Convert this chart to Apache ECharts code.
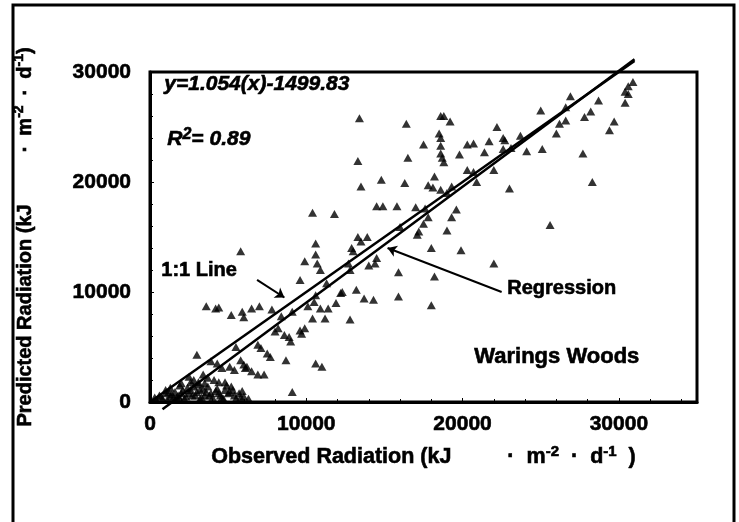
<!DOCTYPE html>
<html>
<head>
<meta charset="utf-8">
<script src="https://cdn.jsdelivr.net/npm/echarts@6/dist/echarts.min.js"></script>
<style>
  html, body { margin: 0; padding: 0; background: #fff; }
  #chart { width: 739px; height: 522px; }
</style>
</head>
<body>
<div id="chart"></div>
<script>
// observed vs predicted radiation, Warings Woods
const observed = [
  13400, 16400, 18600, 18800, 19200, 18500, 18600, 17500, 18600, 20300,
  20700, 13300, 16500, 18600, 18700, 18800, 19800, 20300, 20700, 18200,
  14800, 16300, 13500, 17800, 18100, 18600, 19000, 19300, 10400, 11800,
  14500, 14900, 15800, 17000, 17600, 19600, 17800, 17500, 19300, 19000,
  17100, 17200, 13300, 13900, 16000, 30900, 30600, 30400, 30600, 30400,
  26900, 28700, 25000, 26600, 26600, 26200, 28200, 27800, 29700, 29400,
  22200, 21700, 22600, 22700, 23700, 21400, 22600, 23100, 24100, 25100,
  26000, 27700, 22000, 20900, 23000, 28300, 25600, 18000, 19900, 10600,
  10600, 9900, 10700, 10900, 9600, 13500, 12900, 13000, 12700, 12800,
  14500, 14400, 14000, 15900, 18200, 11300, 12300, 13200, 13700, 14300,
  15900, 18000, 10600, 10500, 10100, 10900, 11400, 11900, 10400, 11200,
  12800, 9900, 9700, 10600, 11000, 5800, 3600, 4200, 4400, 5200,
  5900, 6000, 6500, 7000, 7800, 8400, 9100, 8200, 8000, 8900,
  9000, 9600, 5500, 6900, 7100, 7500, 7700, 6000, 6100, 6500,
  6900, 7300, 3000, 3900, 4300, 4600, 5100, 5400, 8700, 9100,
  2500, 2800, 3100, 3400, 3700, 4100, 4400, 600, 1000, 1300,
  1600, 1800, 2100, 2500, 2800, 2900, 3200, 3500, 3700, 3900,
  4300, 4500, 4800, 5000, 5200, 5400, 5700, 5800, 6200, 8600,
  12200, 22000, 300, 800, 1200, 1500, 1900, 2300, 2600, 3000,
  3300, 3600, 4000, 4400, 4600, 4900, 5300, 5800, 6000, 2600,
  1900, 1300, 3100, 400, 700, 1100, 1400, 1700, 2000, 2200,
  2400, 2700, 3200, 3400, 3800, 4200, 4700, 5100, 5500, 5900,
  6300, 2000, 3500, 4800, 1000
];
const predicted = [
  25800, 25300, 26000, 26000, 25500, 24400, 24000, 23400, 23300, 23400,
  23500, 21900, 22200, 22600, 22200, 21800, 22500, 21100, 20900, 20500,
  20200, 19900, 19600, 19700, 19500, 19300, 19000, 19600, 17200, 17100,
  17800, 17800, 17800, 17700, 17600, 17500, 16800, 16200, 16800, 15600,
  15200, 15500, 15000, 15000, 15900, 29100, 28700, 28200, 28000, 27200,
  27800, 27400, 26500, 26800, 25600, 25300, 26400, 25900, 25500, 24700,
  25000, 23700, 24000, 23800, 24200, 22700, 23000, 23100, 22800, 23000,
  24400, 22600, 21100, 20000, 19400, 20000, 16100, 14000, 13800, 14400,
  13400, 12800, 12600, 12000, 11100, 14600, 14000, 13700, 12600, 12000,
  13100, 12600, 12400, 11800, 11400, 10800, 10000, 10200, 9400, 9300,
  9600, 8800, 9700, 9100, 8700, 8500, 8500, 9000, 7600, 7600,
  7500, 6700, 6200, 3500, 3200, 13700, 8700, 8500, 8600, 7900,
  8200, 7700, 8500, 8700, 8400, 7800, 8200, 6700, 6400, 5900,
  5500, 6500, 5000, 5200, 4900, 4400, 4100, 3400, 3100, 2800,
  2500, 2500, 4300, 3700, 3500, 3100, 3200, 2900, 3800, 900,
  2300, 2000, 1800, 2500, 2200, 2000, 1800, 600, 800, 500,
  900, 600, 1100, 800, 1400, 600, 1100, 600, 1400, 800,
  1200, 600, 1100, 800, 1400, 600, 800, 3800, 3200, 6100,
  9900, 12600, 400, 300, 900, 400, 300, 500, 1100, 900,
  400, 900, 400, 800, 400, 1500, 1100, 400, 500, 1800,
  1500, 1300, 1600, 200, 500, 200, 700, 400, 800, 300,
  1300, 600, 300, 1200, 600, 1000, 300, 900, 300, 1000,
  300, 1700, 1700, 1800, 1100
];

// reference lines (end points)
const oneToOneX = [0, 31000];
const oneToOneY = [0, 31000];
const regressionX = [800, 31000];
const regressionY = [-660, 31170];

// annotation arrows: [tail, tip] in data units
const oneToOneArrow = [[6850, 11100], [8600, 9500]];
const regressionArrow = [[22500, 10000], [15200, 14000]];

const xTicks = [0, 10000, 20000, 30000];
const yTicks = [0, 10000, 20000, 30000];

const FONT = '"Liberation Sans", Arial, sans-serif';
const INK = { textBorderColor: '#000', textBorderWidth: 0.6 };
// graphic texts take stroke/lineWidth instead
const GINK = { stroke: '#000', lineWidth: 0.6 };

const points = observed.map((x, i) => [x, predicted[i]]);

const chart = echarts.init(document.getElementById('chart'));

const nameRich = (size, gap, space) => ({
  t: Object.assign({ fontFamily: FONT, fontWeight: 'bold', fontSize: size, color: '#000', lineHeight: 26 }, INK),
  s: Object.assign({ fontFamily: FONT, fontWeight: 'bold', fontSize: Math.round(size * 0.68), color: '#000', verticalAlign: 'top', lineHeight: 26 }, INK),
  g: { width: gap },
  w: { width: space }
});

chart.setOption({
  animation: false,
  backgroundColor: '#fff',
  grid: {
    left: 150, top: 72, right: 42, bottom: 120,
    show: true, borderColor: '#000', borderWidth: 3
  },
  xAxis: {
    type: 'value', min: 0, max: 35000, interval: 10000,
    name: '{t|Observed Radiation (kJ}{g|}{t|·}{w|}{t|m}{s|-2}{w|}{t|·}{w|}{t|d}{s|-1}{w|}{t|)}',
    nameLocation: 'middle', nameGap: 42,
    nameTextStyle: { rich: nameRich(21.5, 56, 12) },
    splitLine: { show: false },
    axisLine: { lineStyle: { color: '#000', width: 3 } },
    axisTick: { inside: true, length: 4, lineStyle: { color: '#000' } },
    minorTick: { show: true, splitNumber: 5, length: 3, lineStyle: { color: '#000' } },
    axisLabel: Object.assign({
      margin: 12, color: '#000', fontFamily: FONT, fontWeight: 'bold', fontSize: 21,
      showMaxLabel: false,
      formatter: v => (xTicks.includes(v) ? String(v) : '')
    }, INK)
  },
  yAxis: {
    type: 'value', min: 0, max: 30000, interval: 10000,
    name: '{t|Predicted Radiation (kJ}{g|}{t|·}{w|}{t|m}{s|-2}{w|}{t|·}{w|}{t|d}{s|-1}{t|)}',
    nameLocation: 'middle', nameGap: 112,
    nameTextStyle: { rich: nameRich(20, 52, 10) },
    splitLine: { show: false },
    axisLine: { show: true, lineStyle: { color: '#000', width: 3 } },
    axisTick: { inside: true, length: 4, lineStyle: { color: '#000' } },
    minorTick: { show: true, splitNumber: 5, length: 3, lineStyle: { color: '#000' } },
    axisLabel: Object.assign({
      margin: 19, color: '#000', fontFamily: FONT, fontWeight: 'bold', fontSize: 21,
      formatter: v => (yTicks.includes(v) ? String(v) : '')
    }, INK)
  },
  series: [
    {
      type: 'scatter',
      symbol: 'triangle',
      symbolSize: [9, 8],
      itemStyle: { color: '#000' },
      data: points,
      z: 3
    },
    {
      type: 'line',
      clip: false,
      symbol: 'none',
      lineStyle: { color: '#000', width: 2.5 },
      data: oneToOneX.map((x, i) => [x, oneToOneY[i]]),
      z: 4
    },
    {
      type: 'line',
      clip: false,
      symbol: 'none',
      lineStyle: { color: '#000', width: 2.5 },
      data: regressionX.map((x, i) => [x, regressionY[i]]),
      z: 4
    },
    {
      type: 'lines',
      coordinateSystem: 'cartesian2d',
      symbol: ['none', 'arrow'],
      symbolSize: 9,
      lineStyle: { color: '#000', width: 2, opacity: 1 },
      data: [{ coords: oneToOneArrow }, { coords: regressionArrow }],
      z: 5
    }
  ],
  graphic: [
    {
      type: 'rect', silent: true,
      shape: { x: 13, y: 5, width: 721, height: 540 },
      style: { fill: 'none', stroke: '#000', lineWidth: 3 }
    },
    {
      type: 'text', left: 164, top: 73,
      style: Object.assign({ text: 'y=1.054(x)-1499.83', font: 'italic bold 21px ' + FONT, fill: '#000' }, GINK)
    },
    {
      type: 'text', left: 167, top: 126,
      style: {
        text: '{t|R}{s|2}{t|= 0.89}',
        rich: {
          t: Object.assign({ font: 'italic bold 21px ' + FONT, fill: '#000', lineHeight: 26 }, GINK),
          s: Object.assign({ font: 'italic bold 16px ' + FONT, fill: '#000', verticalAlign: 'top', lineHeight: 26 }, GINK)
        }
      }
    },
    {
      type: 'text', left: 161, top: 260,
      style: Object.assign({ text: '1:1 Line', font: 'bold 20px ' + FONT, fill: '#000' }, GINK)
    },
    {
      type: 'text', left: 507, top: 278,
      style: Object.assign({ text: 'Regression', font: 'bold 20px ' + FONT, fill: '#000' }, GINK)
    },
    {
      type: 'text', left: 474, top: 346,
      style: Object.assign({ text: 'Warings Woods', font: 'bold 22px ' + FONT, fill: '#000' }, GINK)
    }
  ]
});
</script>
</body>
</html>
